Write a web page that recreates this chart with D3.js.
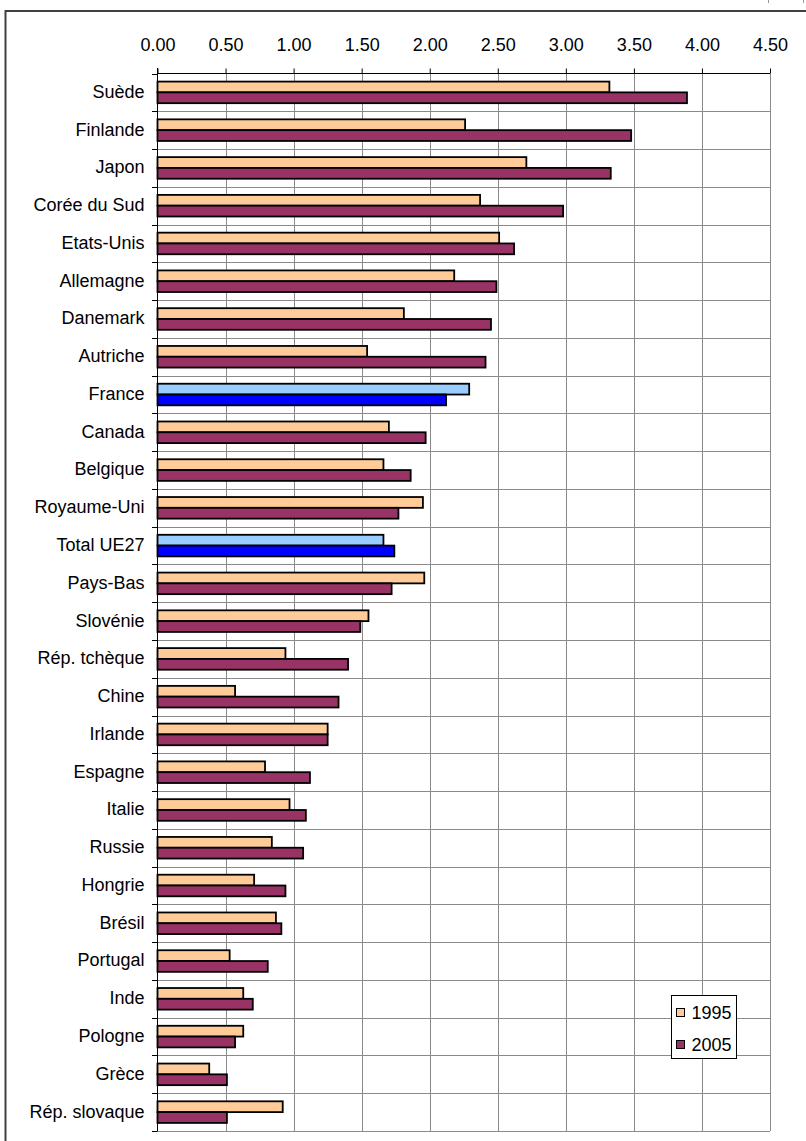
<!DOCTYPE html>
<html><head><meta charset="utf-8">
<script src="https://cdn.jsdelivr.net/npm/d3@7"></script>
<style>html,body{margin:0;padding:0;background:#fff;}svg{display:block;}</style>
</head><body>
<script>
const categories = ["Suède","Finlande","Japon","Corée du Sud","Etats-Unis","Allemagne","Danemark","Autriche","France","Canada","Belgique","Royaume-Uni","Total UE27","Pays-Bas","Slovénie","Rép. tchèque","Chine","Irlande","Espagne","Italie","Russie","Hongrie","Brésil","Portugal","Inde","Pologne","Grèce","Rép. slovaque"];
const values1995 = [3.32,2.26,2.71,2.37,2.51,2.18,1.81,1.54,2.29,1.70,1.66,1.95,1.66,1.96,1.55,0.94,0.57,1.25,0.79,0.97,0.84,0.71,0.87,0.53,0.63,0.63,0.38,0.92];
const values2005 = [3.89,3.48,3.33,2.98,2.62,2.49,2.45,2.41,2.12,1.97,1.86,1.77,1.74,1.72,1.49,1.40,1.33,1.25,1.12,1.09,1.07,0.94,0.91,0.81,0.70,0.57,0.51,0.51];
const highlighted = ["France","Total UE27"];
const seriesNames = ["1995","2005"];
const tickValues = [0,0.5,1,1.5,2,2.5,3,3.5,4,4.5];

const W = 806, H = 1141;
const colors = {"1995":"#FFCC99","2005":"#993366"};
const hiColors = {"1995":"#99CCFF","2005":"#0000FF"};
const font = "'Liberation Sans', Arial, sans-serif";

const svg = d3.select("body").append("svg").attr("width", W).attr("height", H);

// small marks of a cropped element above the frame
svg.append("line").attr("x1",768.5).attr("x2",768.5).attr("y1",0).attr("y2",3).attr("stroke","#999");
svg.append("line").attr("x1",803.5).attr("x2",803.5).attr("y1",0).attr("y2",3).attr("stroke","#999");

// outer frame
svg.append("rect").attr("x",5.5).attr("y",11).attr("width",W+20).attr("height",H+20)
  .attr("fill","none").attr("stroke","#404040").attr("stroke-width",2);

const x = d3.scaleLinear().domain([0,4.5]).range([157.5,770]);
const y = d3.scaleBand().domain(categories).range([73.5,1131]);
const bw = y.bandwidth();
const barH = 10.8;
const off = (bw - 2*barH)/2;

// vertical gridlines
svg.append("g").selectAll("line").data(tickValues.slice(1)).join("line")
  .attr("x1", d=>Math.round(x(d))+0.5).attr("x2", d=>Math.round(x(d))+0.5)
  .attr("y1", 73.5).attr("y2", 1131)
  .attr("stroke","#8a8a8a").attr("stroke-width",1);

// horizontal gridlines at band boundaries
const bounds = categories.map(c => y(c)).concat([1131]);
svg.append("g").selectAll("line").data(bounds.slice(1)).join("line")
  .attr("x1", 152).attr("x2", 770)
  .attr("y1", d=>Math.round(d)+0.5).attr("y2", d=>Math.round(d)+0.5)
  .attr("stroke","#8a8a8a").attr("stroke-width",1);

// top axis
const xAxis = d3.axisTop(x).tickValues(tickValues).tickFormat(d3.format(".2f")).tickSize(5).tickPadding(18);
const gx = svg.append("g").attr("transform","translate(0,73.5)").call(xAxis);
gx.select(".domain").attr("stroke","#000").attr("d","M157.5,0H770");
gx.selectAll(".tick line").attr("stroke","#000");
gx.selectAll(".tick text").attr("font-family",font).attr("font-size",18).attr("fill","#000");

// left axis
const yAxis = d3.axisLeft(y).tickSize(0).tickPadding(13);
const gy = svg.append("g").attr("transform","translate(157.5,0)").call(yAxis);
gy.select(".domain").remove();
gy.selectAll(".tick text").attr("font-family",font).attr("font-size",18).attr("fill","#000").attr("dy","0.3em");
svg.append("line").attr("x1",157.5).attr("x2",157.5).attr("y1",68).attr("y2",1131).attr("stroke","#000");
svg.append("g").selectAll("line").data(bounds).join("line")
  .attr("x1",152).attr("x2",157.5)
  .attr("y1", d=>Math.round(d)+0.5).attr("y2", d=>Math.round(d)+0.5)
  .attr("stroke","#000");

// bars
const data = categories.map((c,i)=>({c, v:[values1995[i], values2005[i]]}));
const groups = svg.append("g").selectAll("g").data(data).join("g");
seriesNames.forEach((s,si)=>{
  groups.append("rect")
    .attr("x", x(0))
    .attr("y", d => y(d.c) + off + si*barH)
    .attr("width", d => x(d.v[si]) - x(0))
    .attr("height", barH)
    .attr("fill", d => highlighted.includes(d.c) ? hiColors[s] : colors[s])
    .attr("stroke","#000").attr("stroke-width",1.8);
});

// legend
const lg = svg.append("g");
lg.append("rect").attr("x",671.5).attr("y",995.5).attr("width",65).attr("height",63)
  .attr("fill","#fff").attr("stroke","#000").attr("stroke-width",1);
seriesNames.forEach((s,i)=>{
  const cy = 1012.5 + i*32;
  lg.append("rect").attr("x",676.5).attr("y",cy-4).attr("width",8).attr("height",8)
    .attr("fill",colors[s]).attr("stroke","#000").attr("stroke-width",1);
  lg.append("text").attr("x",691.5).attr("y",cy).attr("dy","0.35em")
    .attr("font-family",font).attr("font-size",18).attr("fill","#000").text(s);
});
</script>
</body></html>
